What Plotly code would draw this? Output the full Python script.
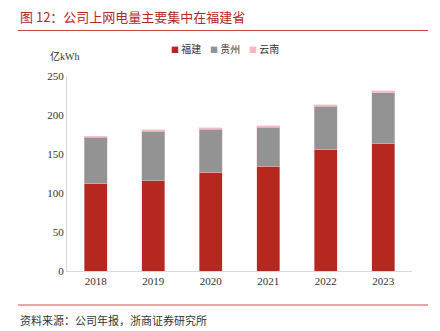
import plotly.graph_objects as go

years = ["2018", "2019", "2020", "2021", "2022", "2023"]
fujian = [112, 115.7, 126.7, 134.3, 156, 164.1]
guizhou = [59.3, 63.7, 55.3, 50.2, 55.3, 64.6]
yunnan = [1.4, 1.6, 1.7, 1.5, 1.7, 2.2]
series_names = ["福建", "贵州", "云南"]
colors = ["#b5271f", "#939393", "#f5b8c4"]

W, H = 440, 331
ml, mr, mt, mb = 67, 28, 76, 60

serif = "Liberation Serif, Noto Sans CJK SC, serif"
fig = go.Figure()
for name, vals, col in zip(series_names, [fujian, guizhou, yunnan], colors):
    fig.add_trace(go.Bar(x=years, y=vals, name=name, showlegend=False,
                         marker=dict(color=col, line=dict(color="rgba(240,200,200,0.8)", width=0.6))))

def px(x):
    return (x - ml) / (W - ml - mr)

def py(y):
    return (H - mb - y) / (H - mt - mb)

fig.update_layout(
    width=W, height=H, barmode="stack", bargap=0.6,
    margin=dict(l=ml, r=mr, t=mt, b=mb),
    plot_bgcolor="white", paper_bgcolor="white",
    font=dict(family=serif, size=11, color="#333"),
    xaxis=dict(showline=True, linecolor="#d9d9d9", linewidth=1, ticks="", tickfont=dict(size=11, color="#333")),
    yaxis=dict(range=[0, 250], dtick=50, showgrid=False, showline=True, linecolor="#d9d9d9", linewidth=1,
               ticks="", tickfont=dict(size=11, color="#333"), zeroline=False),
)
# manual legend
for i, (name, col) in enumerate(zip(series_names, colors)):
    x0 = 169 + i * 39
    fig.add_annotation(x=px(x0), y=py(48), xref="paper", yref="paper",
                       text=f'<span style="color:{col};font-size:8px">■</span> {name}', showarrow=False,
                       xanchor="left", yanchor="middle",
                       font=dict(size=10, color="#333", family="Noto Sans CJK SC"))
fig.add_annotation(x=px(18), y=py(16), xref="paper", yref="paper", text="图 12：公司上网电量主要集中在福建省",
                   showarrow=False, xanchor="left", yanchor="middle",
                   font=dict(size=13, color="#b5271f", family="Noto Sans CJK SC"))
fig.add_annotation(x=px(48), y=py(56), xref="paper", yref="paper", text="亿kWh", showarrow=False,
                   xanchor="left", yanchor="middle", font=dict(size=10, color="#333", family=serif))
fig.add_annotation(x=px(18), y=py(320), xref="paper", yref="paper", text="资料来源：公司年报，浙商证券研究所",
                   showarrow=False, xanchor="left", yanchor="middle",
                   font=dict(size=11, color="#333", family="Noto Sans CJK SC"))
fig.add_shape(type="line", xref="paper", yref="paper", x0=px(18), x1=px(428), y0=py(30.5), y1=py(30.5),
              line=dict(color="#c8453e", width=1))
fig.add_shape(type="line", xref="paper", yref="paper", x0=px(18), x1=px(428), y0=py(305), y1=py(305),
              line=dict(color="#e08a88", width=1.5))
fig.write_html("out.html")
